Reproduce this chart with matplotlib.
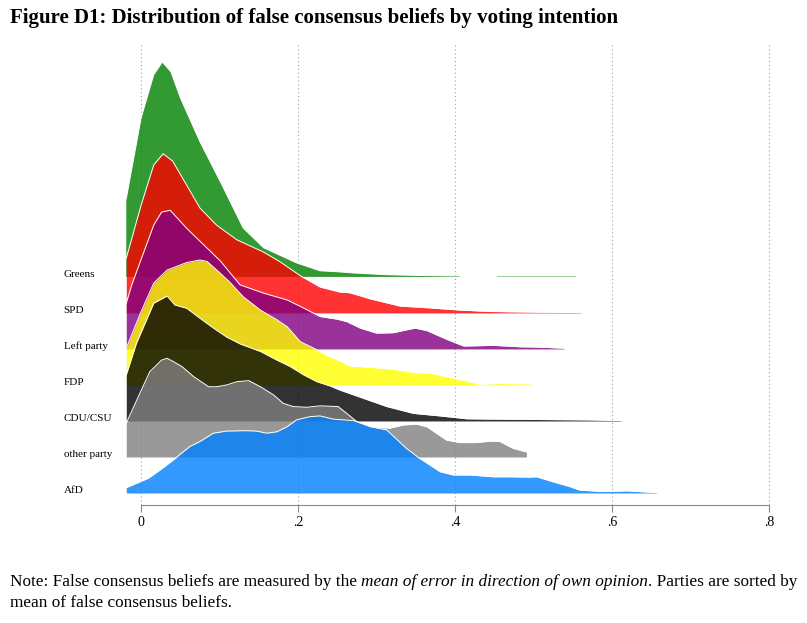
import numpy as np
import matplotlib.pyplot as plt

plt.rcParams['font.family'] = ['Liberation Serif', 'DejaVu Serif']

# party order from top ridge to bottom ridge
parties = ['Greens', 'SPD', 'Left party', 'FDP', 'CDU/CSU', 'other party', 'AfD']
colors = ['#008000', '#ff0000', '#800080', '#ffff00', '#000000', '#808080', '#0080ff']

# densities (height in ridge units)
greens_x = [-0.019, 0.0, 0.016, 0.027, 0.038, 0.050, 0.075, 0.101, 0.130, 0.156,
            0.198, 0.228, 0.253, 0.270, 0.313, 0.355, 0.406, 0.425, 0.453, 0.554]
greens_y = [2.17, 4.42, 5.61, 5.97, 5.69, 4.97, 3.75, 2.64, 1.36, 0.81,
            0.39, 0.17, 0.14, 0.11, 0.06, 0.04, 0.025, np.nan, 0.025, 0.025]

spd_x = [-0.019, 0.0, 0.016, 0.028, 0.040, 0.075, 0.096, 0.122, 0.156, 0.177,
         0.203, 0.228, 0.253, 0.266, 0.292, 0.330, 0.368, 0.406, 0.445, 0.508, 0.561]
spd_y = [1.52, 3.00, 4.11, 4.42, 4.22, 2.91, 2.44, 2.03, 1.69, 1.42,
         1.03, 0.72, 0.58, 0.56, 0.39, 0.19, 0.14, 0.08, 0.04, 0.02, 0.01]

left_x = [-0.019, -0.012, 0.016, 0.026, 0.037, 0.058, 0.084, 0.101, 0.126, 0.156,
          0.186, 0.203, 0.228, 0.249, 0.262, 0.279, 0.300, 0.321, 0.349, 0.364,
          0.389, 0.411, 0.449, 0.483, 0.508, 0.539]
left_y = [1.27, 1.78, 3.44, 3.80, 3.85, 3.35, 2.80, 2.44, 1.78, 1.55,
          1.36, 1.18, 0.90, 0.83, 0.76, 0.58, 0.44, 0.45, 0.58, 0.51,
          0.27, 0.08, 0.10, 0.06, 0.05, 0.02]

fdp_x = [-0.019, -0.001, 0.016, 0.033, 0.058, 0.075, 0.084, 0.101, 0.114, 0.130,
         0.152, 0.173, 0.186, 0.203, 0.220, 0.236, 0.253, 0.266, 0.292, 0.321,
         0.351, 0.368, 0.398, 0.432, 0.457, 0.497]
fdp_y = [1.02, 1.99, 2.83, 3.19, 3.40, 3.47, 3.43, 3.10, 2.83, 2.45,
         2.08, 1.81, 1.62, 1.20, 1.02, 0.83, 0.67, 0.53, 0.49, 0.44,
         0.34, 0.33, 0.19, 0.02, 0.04, 0.03]

cdu_x = [-0.019, -0.006, 0.016, 0.033, 0.043, 0.058, 0.075, 0.092, 0.109, 0.126,
         0.152, 0.173, 0.190, 0.207, 0.224, 0.241, 0.253, 0.283, 0.313, 0.347,
         0.381, 0.415, 0.457, 0.508, 0.572, 0.612]
cdu_y = [1.28, 2.16, 3.27, 3.47, 3.22, 3.13, 2.85, 2.58, 2.33, 2.14,
         1.93, 1.69, 1.51, 1.28, 1.09, 0.97, 0.86, 0.63, 0.40, 0.21,
         0.14, 0.06, 0.05, 0.04, 0.03, 0.01]

other_x = [-0.019, 0.0, 0.011, 0.026, 0.033, 0.041, 0.052, 0.067, 0.086, 0.096,
           0.109, 0.122, 0.137, 0.152, 0.169, 0.181, 0.194, 0.211, 0.228, 0.251,
           0.262, 0.275, 0.296, 0.317, 0.334, 0.351, 0.364, 0.389, 0.406, 0.427,
           0.445, 0.457, 0.474, 0.491]
other_y = [0.94, 1.85, 2.37, 2.69, 2.74, 2.65, 2.51, 2.23, 1.95, 1.95,
           2.00, 2.09, 2.12, 1.95, 1.72, 1.49, 1.40, 1.38, 1.42, 1.40,
           1.21, 0.98, 0.83, 0.80, 0.89, 0.91, 0.84, 0.47, 0.40, 0.40,
           0.44, 0.43, 0.24, 0.14]

afd_x = [-0.019, -0.006, 0.009, 0.024, 0.041, 0.062, 0.075, 0.092, 0.109, 0.134,
         0.147, 0.160, 0.173, 0.186, 0.198, 0.215, 0.228, 0.245, 0.271, 0.292,
         0.313, 0.338, 0.355, 0.381, 0.398, 0.419, 0.449, 0.470, 0.496, 0.504,
         0.525, 0.546, 0.559, 0.589, 0.619, 0.657]
afd_y = [0.15, 0.27, 0.41, 0.64, 0.92, 1.29, 1.43, 1.66, 1.72, 1.73,
         1.72, 1.66, 1.70, 1.84, 2.03, 2.12, 2.14, 2.05, 2.01, 1.84,
         1.75, 1.24, 0.96, 0.59, 0.50, 0.50, 0.45, 0.45, 0.44, 0.45,
         0.31, 0.18, 0.08, 0.04, 0.06, 0.01]

ridges = [(greens_x, greens_y), (spd_x, spd_y), (left_x, left_y), (fdp_x, fdp_y),
          (cdu_x, cdu_y), (other_x, other_y), (afd_x, afd_y)]

xticks = [0, 0.2, 0.4, 0.6, 0.8]
xticklabels = ['0', '.2', '.4', '.6', '.8']

fig = plt.figure(figsize=(8.07, 6.23), dpi=100)
ax = fig.add_axes([120 / 807, 118 / 623, 670 / 807, 460 / 623])
ax.set_xlim(-0.027, 0.827)
ax.set_ylim(-1 / 3, 12.44)

n = len(parties)
for i, (name, c, (xs, ys)) in enumerate(zip(parties, colors, ridges)):
    base = n - 1 - i
    xs = np.array(xs)
    top = base + np.array(ys, dtype=float)
    ax.fill_between(xs, base, top, color=c, alpha=0.8, linewidth=0, zorder=2 + 2 * i)
    ax.plot(xs, top, color='white', lw=0.7, zorder=3 + 2 * i)
    ax.text(-0.099, base, name, ha='left', va='baseline', fontsize=8,
            clip_on=False)

ax.set_xticks(xticks)
ax.set_xticklabels(xticklabels, fontsize=10)
ax.set_yticks([])
for s in ['left', 'right', 'top']:
    ax.spines[s].set_visible(False)
ax.spines['bottom'].set_bounds(0, 0.8)
ax.spines['bottom'].set_color('#888888')
ax.tick_params(axis='x', length=5, color='#888888', pad=3)
ax.grid(axis='x', linestyle=(0, (1, 2.5)), color='#a0a0a0', linewidth=0.8, zorder=0)
ax.set_axisbelow(True)

fig.text(10 / 807, 1 - 18 / 623,
         'Figure D1: Distribution of false consensus beliefs by voting intention',
         fontsize=15, fontweight='bold', va='center', ha='left')

# note, with an italic phrase in the first line
renderer = fig.canvas.get_renderer()
parts = [('Note: False consensus beliefs are measured by the ', 'normal'),
         ('mean of error in direction of own opinion', 'italic'),
         ('. Parties are sorted by', 'normal')]
xpos = 10
for txt, style in parts:
    t = fig.text(xpos / 807, 1 - 582 / 623, txt, fontsize=12.4, style=style,
                 va='center', ha='left')
    xpos = t.get_window_extent(renderer).x1
fig.text(10 / 807, 1 - 603 / 623, 'mean of false consensus beliefs.',
         fontsize=12.4, va='center', ha='left')

fig.savefig('out.png', dpi=100)
